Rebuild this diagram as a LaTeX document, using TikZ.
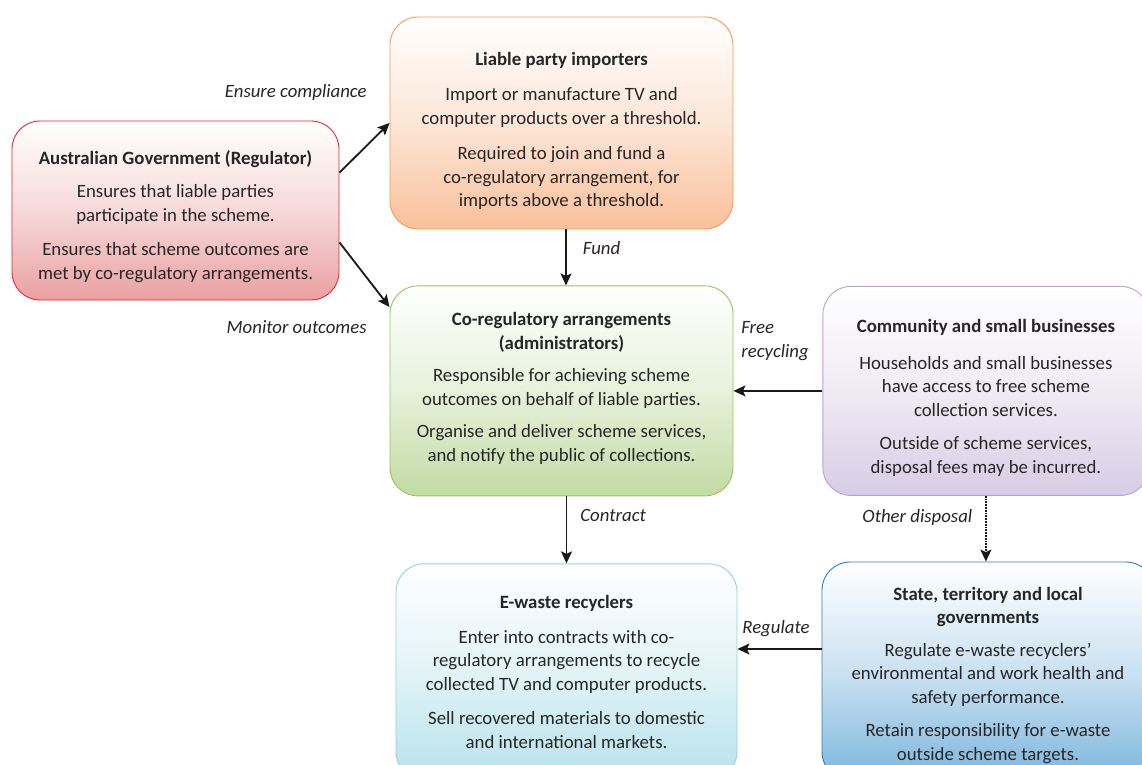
\documentclass[tikz,border=0pt]{standalone}
\usepackage{fontspec}
\setmainfont{Carlito}
\usetikzlibrary{positioning, arrows.meta}
\definecolor{govline}{HTML}{E5262F}
\definecolor{govfill}{HTML}{EAA0A2}
\definecolor{impline}{HTML}{F59A4F}
\definecolor{impfill}{HTML}{F9C09B}
\definecolor{corline}{HTML}{9BC35A}
\definecolor{corfill}{HTML}{C2DBA4}
\definecolor{comline}{HTML}{B7A3CF}
\definecolor{comfill}{HTML}{D9CCE5}
\definecolor{recline}{HTML}{8ED3E3}
\definecolor{recfill}{HTML}{B6E2EB}
\definecolor{staline}{HTML}{2F7EC1}
\definecolor{stafill}{HTML}{7DB6DD}
\newcommand{\toppad}[1]{\rule{0pt}{#1}}
\newcommand{\botpad}[1]{\rule[-#1]{0pt}{#1}}
\tikzset{box/.style={rectangle, rounded corners=28pt, line width=0.9pt, align=center, inner sep=0pt, text=black!85, font=\fontsize{18.8}{23.5}\selectfont},
         govbox/.style={box, draw=govline, top color=white, bottom color=govfill, middle color=govfill!40!white, minimum width=327pt, minimum height=179pt},
         impbox/.style={box, draw=impline, top color=white, bottom color=impfill, middle color=impfill!40!white, minimum width=343pt, minimum height=212pt},
         corbox/.style={box, draw=corline, top color=white, bottom color=corfill, middle color=corfill!40!white, minimum width=343pt, minimum height=210pt},
         combox/.style={box, draw=comline, top color=white, bottom color=comfill, middle color=comfill!40!white, minimum width=326pt, minimum height=209pt},
         recbox/.style={box, draw=recline, top color=white, bottom color=recfill, middle color=recfill!40!white, minimum width=341pt, minimum height=216pt},
         stabox/.style={box, draw=staline, top color=white, bottom color=stafill, middle color=stafill!40!white, minimum width=332pt, minimum height=218pt},
         arr/.style={-{Stealth[length=12pt,width=11pt,inset=2.5pt]}, line width=1.8pt, draw=black!90},
         lbl/.style={font=\fontsize{18.8}{23.5}\selectfont\itshape, text=black!85, inner sep=0pt}}

\begin{document}
\begin{tikzpicture}[x=1pt, y=-1pt]
        \useasboundingbox (0,0) rectangle (1142,764);
        \clip (0,0) rectangle (1142,764);
        \node (imp)[impbox] at (561.5,123) {\toppad{28.7pt}\textbf{Liable party importers}\\[12pt]Import or manufacture TV and\\computer products over a threshold.\\[12pt]Required to join and fund a\\co-regulatory arrangement, for\\imports above a threshold.};
        \node (gov)[govbox] at (175.5,210.5) {\toppad{25.7pt}\textbf{Australian Government (Regulator)}\\[10pt]Ensures that liable parties\\participate in the scheme.\\[11pt]Ensures that scheme outcomes are\\met by co-regulatory arrangements.};
        \node (cor)[corbox, below=56pt of imp] {\textbf{Co-regulatory arrangements}\\\textbf{(administrators)}\\[9pt]Responsible for achieving scheme\\outcomes on behalf of liable parties.\\[9pt]Organise and deliver scheme services,\\and notify the public of collections.\botpad{8.5pt}};
        \node (com)[combox, right=89pt of cor] {\toppad{27.7pt}\textbf{Community and small businesses}\\[13pt]Households and small businesses\\have access to free scheme\\collection services.\\[10pt]Outside of scheme services,\\disposal fees may be incurred.};
        \node (rec)[recbox, below=67pt of cor, xshift=5pt] {\textbf{E-waste recyclers}\\[11pt]Enter into contracts with co-\\regulatory arrangements to recycle\\collected TV and computer products.\\[11pt]Sell recovered materials to domestic\\and international markets.};
        \node (sta)[stabox] at (988,671) {\toppad{22pt}\textbf{State, territory and local}\\\textbf{governments}\\[9pt]Regulate e-waste recyclers'\\environmental and work health and\\safety performance.\\[10pt]Retain responsibility for e-waste\\outside scheme targets.};
        % connectors
        \draw [arr] (gov.13) -- (imp.west) node[lbl, anchor=south east, xshift=-22pt, yshift=22pt]{Ensure compliance};
        \draw [arr] (gov.-11) -- (cor.154) node[lbl, anchor=north east, xshift=-22pt, yshift=-13pt]{Monitor outcomes};
        \draw [arr] ([xshift=4.5pt]imp.south) -- node[lbl, anchor=west, xshift=16pt, yshift=9pt]{Fund} ([xshift=4.5pt]cor.north);
        \draw [arr] (com.west) -- (cor.east) node[lbl, anchor=west, align=left, xshift=7pt, yshift=50pt]{Free\\recycling};
        \draw [arr] (cor.south -| rec.north) -- node[lbl, anchor=west, xshift=13pt, yshift=14pt]{Contract} (rec.north);
        \draw [arr, densely dotted, line width=1.2pt] (com.south) -- node[lbl, anchor=east, xshift=-13pt, yshift=11pt]{Other disposal} (com.south |- sta.north);
        \draw [arr] ([yshift=22pt]sta.west) -- ([yshift=22pt]sta.west -| rec.east) node[lbl, anchor=west, xshift=4pt, yshift=20pt]{Regulate};
    \end{tikzpicture}
\end{document}
